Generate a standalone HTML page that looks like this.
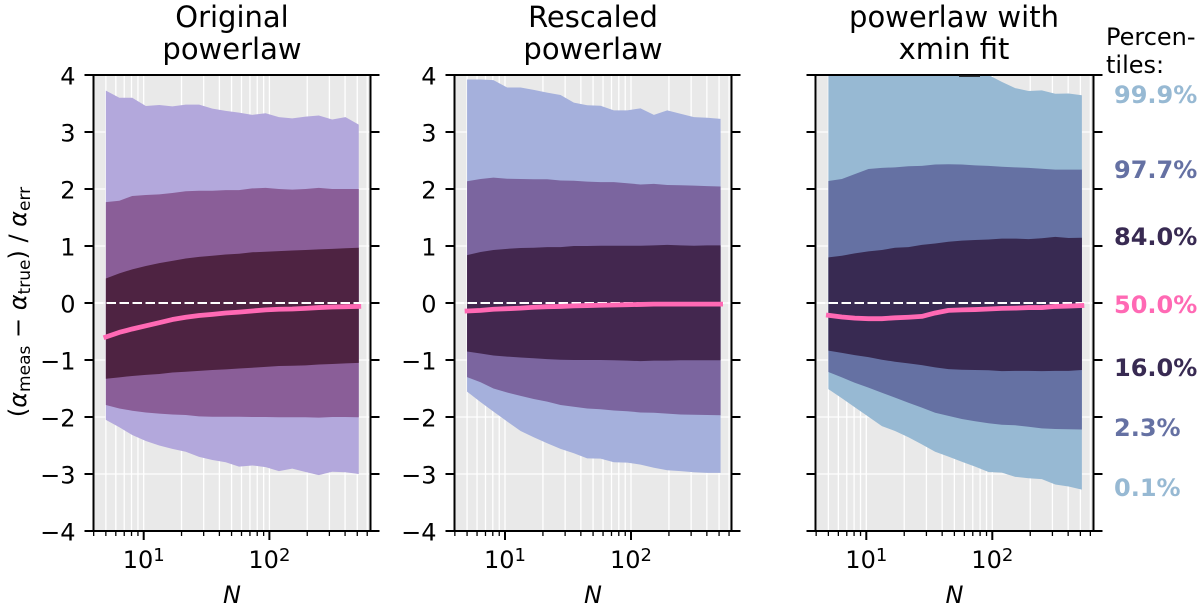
<!DOCTYPE html>
<html>
<head>
<meta charset="utf-8">
<title>Percentile bands of the normalised power-law exponent error</title>
<style>
html,body{margin:0;padding:0;background:#fff;}
svg{display:block;}
text{font-family:"DejaVu Sans","Liberation Sans",sans-serif;fill:#000;}
</style>
</head>
<body>
<svg id="chart" width="1200" height="609" viewBox="0 0 1200 609" xmlns="http://www.w3.org/2000/svg">
  <g id="panels"></g>

  <rect x="959" y="75" width="21" height="1.8" fill="#111"></rect>

  <g font-size="29" text-anchor="middle">
    <text x="232" y="27">Original</text>
    <text x="232" y="59">powerlaw</text>
    <text x="593" y="27">Rescaled</text>
    <text x="593" y="59">powerlaw</text>
    <text x="954" y="27">powerlaw with</text>
    <text x="954" y="59">xmin fit</text>
  </g>

  <text transform="translate(26,302) rotate(-90)" text-anchor="middle" font-size="24">(<tspan font-style="italic">α</tspan><tspan font-size="17" dy="4">meas</tspan><tspan dy="-4"> − </tspan><tspan font-style="italic">α</tspan><tspan font-size="17" dy="4">true</tspan><tspan dy="-4">) / </tspan><tspan font-style="italic">α</tspan><tspan font-size="17" dy="4">err</tspan></text>

  <g font-size="24">
    <text x="1106" y="45">Percen-</text>
    <text x="1106" y="73">tiles:</text>
    <g font-weight="bold">
      <text x="1114" y="103" style="fill:#97b9d3">99.9%</text>
      <text x="1114" y="178" style="fill:#6571a3">97.7%</text>
      <text x="1114" y="245" style="fill:#382a52">84.0%</text>
      <text x="1114" y="313" style="fill:#ff69b4">50.0%</text>
      <text x="1114" y="376" style="fill:#382a52">16.0%</text>
      <text x="1114" y="436" style="fill:#6571a3">2.3%</text>
      <text x="1114" y="496" style="fill:#97b9d3">0.1%</text>
    </g>
  </g>
</svg>

<script>
const sampleN = [5, 6.4, 8.1, 10.4, 13.3, 16.9, 21.6, 27.6, 35.2, 44.9, 57.3, 73.1, 93.3, 119, 152, 194, 247, 316, 403, 514];

const yTickValues = [-4, -3, -2, -1, 0, 1, 2, 3, 4];
const xMinorTickValues = [4, 5, 6, 7, 8, 9, 20, 30, 40, 50, 60, 70, 80, 90, 200, 300, 400, 500, 600];
const xMajorTickValues = [10, 100];
const xMajorTickExponents = ['1', '2'];

const originalP999 = [3.725, 3.6, 3.6, 3.456, 3.474, 3.45, 3.48, 3.48, 3.41, 3.37, 3.34, 3.3, 3.33, 3.26, 3.24, 3.27, 3.29, 3.22, 3.26, 3.13];
const originalP977 = [1.77, 1.795, 1.877, 1.895, 1.906, 1.93, 1.96, 1.97, 1.97, 1.98, 1.98, 2.01, 2.02, 2, 1.99, 2, 2.02, 2, 2, 2];
const originalP840 = [0.43, 0.52, 0.59, 0.65, 0.7, 0.74, 0.78, 0.81, 0.83, 0.85, 0.865, 0.89, 0.9, 0.91, 0.92, 0.93, 0.94, 0.95, 0.96, 0.97];
const originalP500 = [-0.596, -0.515, -0.456, -0.4, -0.345, -0.29, -0.25, -0.22, -0.2, -0.175, -0.16, -0.14, -0.12, -0.11, -0.105, -0.095, -0.08, -0.07, -0.065, -0.06];
const originalP160 = [-1.33, -1.305, -1.28, -1.26, -1.245, -1.22, -1.205, -1.19, -1.175, -1.165, -1.15, -1.135, -1.12, -1.105, -1.1, -1.095, -1.08, -1.07, -1.06, -1.05];
const originalP023 = [-1.79, -1.85, -1.89, -1.92, -1.94, -1.955, -1.965, -1.99, -1.995, -1.995, -1.995, -2, -2, -2.005, -2.005, -2.005, -2.01, -2, -2, -2.005];
const originalP001 = [-2.05, -2.18, -2.315, -2.42, -2.5, -2.56, -2.61, -2.7, -2.755, -2.795, -2.87, -2.85, -2.88, -2.95, -2.905, -2.965, -3.02, -2.96, -2.97, -3];

const rescaledP999 = [3.92, 3.92, 3.91, 3.78, 3.78, 3.74, 3.69, 3.65, 3.515, 3.47, 3.46, 3.38, 3.38, 3.415, 3.3, 3.38, 3.32, 3.26, 3.25, 3.23];
const rescaledP977 = [2.135, 2.175, 2.2, 2.18, 2.175, 2.17, 2.17, 2.15, 2.145, 2.13, 2.12, 2.12, 2.1, 2.08, 2.09, 2.07, 2.065, 2.06, 2.05, 2.045];
const rescaledP840 = [0.84, 0.895, 0.93, 0.95, 0.965, 0.97, 0.98, 0.98, 1, 1, 1.005, 1.005, 1.005, 1.005, 1.01, 1.02, 1.01, 1.005, 1.01, 1.01];
const rescaledP500 = [-0.14, -0.13, -0.11, -0.1, -0.09, -0.075, -0.065, -0.06, -0.05, -0.045, -0.04, -0.035, -0.03, -0.025, -0.02, -0.02, -0.02, -0.02, -0.02, -0.02];
const rescaledP160 = [-0.85, -0.885, -0.92, -0.94, -0.955, -0.97, -0.985, -0.995, -1, -1, -1, -1.005, -1.01, -1.02, -1.01, -1.01, -1.005, -1.005, -1.005, -1.005];
const rescaledP023 = [-1.3, -1.39, -1.5, -1.57, -1.63, -1.685, -1.73, -1.79, -1.82, -1.85, -1.865, -1.885, -1.9, -1.92, -1.925, -1.94, -1.955, -1.96, -1.965, -1.97];
const rescaledP001 = [-1.555, -1.74, -1.905, -2.08, -2.245, -2.355, -2.46, -2.56, -2.635, -2.725, -2.73, -2.795, -2.8, -2.835, -2.89, -2.935, -2.95, -2.97, -2.98, -2.98];

const xminP999 = [4.6, 4.55, 4.5, 4.4, 4.3, 4.25, 4.2, 4.15, 4.1, 4.05, 4.02, 4.02, 4, 3.88, 3.77, 3.72, 3.73, 3.67, 3.675, 3.645];
const xminP977 = [2.14, 2.175, 2.26, 2.35, 2.37, 2.38, 2.4, 2.405, 2.43, 2.435, 2.43, 2.415, 2.405, 2.39, 2.38, 2.37, 2.355, 2.34, 2.34, 2.34];
const xminP840 = [0.8, 0.83, 0.87, 0.905, 0.93, 0.97, 0.98, 1.02, 1.045, 1.075, 1.095, 1.105, 1.115, 1.13, 1.13, 1.12, 1.135, 1.16, 1.14, 1.145];
const xminP500 = [-0.215, -0.245, -0.265, -0.275, -0.275, -0.26, -0.25, -0.235, -0.175, -0.13, -0.12, -0.115, -0.105, -0.095, -0.09, -0.08, -0.08, -0.06, -0.055, -0.045];
const xminP160 = [-0.835, -0.875, -0.915, -0.95, -0.995, -1.03, -1.06, -1.09, -1.13, -1.16, -1.17, -1.175, -1.18, -1.195, -1.19, -1.19, -1.195, -1.19, -1.19, -1.175];
const xminP023 = [-1.21, -1.305, -1.4, -1.485, -1.575, -1.66, -1.75, -1.835, -1.925, -1.98, -2.035, -2.075, -2.11, -2.135, -2.145, -2.17, -2.2, -2.21, -2.215, -2.22];
const xminP001 = [-1.51, -1.67, -1.83, -1.995, -2.16, -2.245, -2.355, -2.48, -2.61, -2.695, -2.785, -2.87, -2.965, -2.975, -3.05, -3.075, -3.09, -3.185, -3.22, -3.275];

const SVG_NS = 'http://www.w3.org/2000/svg';
const axisTop = 75;
const axisBottom = 531;
const yAxisMin = -4;
const yAxisMax = 4;
const majorLen = 9;
const minorLen = 5;

const panelConfigs = [
  { key: 'original', left: 93.5, right: 370.5, decade10: 143.7, decade100: 269.4, showY: true,
    colors: ['#b3a8dc', '#8a5e98', '#4e2342'],
    series: [originalP001, originalP023, originalP160, originalP500, originalP840, originalP977, originalP999] },
  { key: 'rescaled', left: 454.5, right: 731.5, decade10: 505, decade100: 631, showY: true,
    colors: ['#a5b0dc', '#7b659f', '#43274f'],
    series: [rescaledP001, rescaledP023, rescaledP160, rescaledP500, rescaledP840, rescaledP977, rescaledP999] },
  { key: 'xmin', left: 815.5, right: 1093.5, decade10: 866.3, decade100: 992.3, showY: false,
    colors: ['#97b9d3', '#6571a3', '#382a52'],
    series: [xminP001, xminP023, xminP160, xminP500, xminP840, xminP977, xminP999] }
];

function yScale(v) {
  return axisTop + (yAxisMax - v) / (yAxisMax - yAxisMin) * (axisBottom - axisTop);
}
function makeXScale(cfg) {
  return function (n) {
    return cfg.decade10 + (Math.log10(n) - 1) * (cfg.decade100 - cfg.decade10);
  };
}
function mk(tag, parent) {
  const node = document.createElementNS(SVG_NS, tag);
  parent.appendChild(node);
  return node;
}
function line(parent, x1, y1, x2, y2, stroke, width) {
  const l = mk('line', parent);
  l.setAttribute('x1', x1);
  l.setAttribute('y1', y1);
  l.setAttribute('x2', x2);
  l.setAttribute('y2', y2);
  l.setAttribute('stroke', stroke);
  l.setAttribute('stroke-width', width);
  return l;
}
function bandPath(x, upper, lower) {
  let d = '';
  for (let i = 0; i < sampleN.length; i++) {
    d += (i ? 'L' : 'M') + x(sampleN[i]).toFixed(2) + ' ' + yScale(upper[i]).toFixed(2);
  }
  for (let i = sampleN.length - 1; i >= 0; i--) {
    d += 'L' + x(sampleN[i]).toFixed(2) + ' ' + yScale(lower[i]).toFixed(2);
  }
  return d + 'Z';
}

const panelsRoot = document.getElementById('panels');
const defs = mk('defs', panelsRoot);

panelConfigs.forEach(function (cfg) {
  const x = makeXScale(cfg);
  const w = cfg.right - cfg.left;
  const h = axisBottom - axisTop;

  const clip = mk('clipPath', defs);
  clip.setAttribute('id', 'clip-' + cfg.key);
  const clipRect = mk('rect', clip);
  clipRect.setAttribute('x', cfg.left);
  clipRect.setAttribute('y', axisTop);
  clipRect.setAttribute('width', w);
  clipRect.setAttribute('height', h);

  const panel = mk('g', panelsRoot);
  
  

  const bg = mk('rect', panel);
  
  
  bg.setAttribute('x', cfg.left);
  bg.setAttribute('y', axisTop);
  bg.setAttribute('width', w);
  bg.setAttribute('height', h);
  bg.setAttribute('fill', '#e9e9e9');

  const grid = mk('g', panel);
  
  
  xMinorTickValues.concat(xMajorTickValues).forEach(function (n) {
    const gl = line(grid, x(n), axisTop, x(n), axisBottom, '#ffffff', 1.3);
    
    
  });
  yTickValues.forEach(function (v) {
    const gl = line(grid, cfg.left, yScale(v), cfg.right, yScale(v), '#ffffff', 1.3);
    
    
  });

  const plot = mk('g', panel);
  
  
  plot.setAttribute('clip-path', 'url(#clip-' + cfg.key + ')');

  const outer = mk('path', plot);
  
  
  outer.setAttribute('d', bandPath(x, cfg.series[6], cfg.series[0]));
  outer.setAttribute('fill', cfg.colors[0]);

  const middle = mk('path', plot);
  
  
  middle.setAttribute('d', bandPath(x, cfg.series[5], cfg.series[1]));
  middle.setAttribute('fill', cfg.colors[1]);

  const inner = mk('path', plot);
  
  
  inner.setAttribute('d', bandPath(x, cfg.series[4], cfg.series[2]));
  inner.setAttribute('fill', cfg.colors[2]);

  const zero = line(plot, cfg.left, yScale(0), cfg.right, yScale(0), '#ffffff', 2);
  
  
  zero.setAttribute('stroke-dasharray', '9.5 3.5');

  const median = mk('polyline', plot);
  
  
  median.setAttribute('points', sampleN.map(function (n, i) {
    return x(n).toFixed(2) + ',' + yScale(cfg.series[3][i]).toFixed(2);
  }).join(' '));
  median.setAttribute('fill', 'none');
  median.setAttribute('stroke', '#ff69b4');
  median.setAttribute('stroke-width', 4.8);
  median.setAttribute('stroke-linecap', 'square');
  median.setAttribute('stroke-linejoin', 'round');

  const yTicks = mk('g', panel);
  
  
  yTickValues.forEach(function (v) {
    const py = yScale(v);
    const tl = line(yTicks, cfg.left - majorLen, py, cfg.left, py, '#000', 2);
    
    
    const tr = line(yTicks, cfg.right, py, cfg.right + majorLen, py, '#000', 2);
    
    
    if (cfg.showY) {
      const label = mk('text', yTicks);
      
      
      label.setAttribute('x', cfg.left - 18);
      label.setAttribute('y', py + 9.5);
      label.setAttribute('text-anchor', 'end');
      label.setAttribute('font-size', 24);
      label.textContent = (v < 0 ? '\u2212' : '') + Math.abs(v);
    }
  });

  const xTicks = mk('g', panel);
  
  
  xMinorTickValues.forEach(function (n) {
    const t = line(xTicks, x(n), axisBottom, x(n), axisBottom + minorLen, '#000', 1.3);
    
    
  });
  xMajorTickValues.forEach(function (n, i) {
    const t = line(xTicks, x(n), axisBottom, x(n), axisBottom + majorLen, '#000', 2);
    
    
    const label = mk('text', xTicks);
    
    
    label.setAttribute('x', x(n));
    label.setAttribute('y', 568);
    label.setAttribute('text-anchor', 'middle');
    label.setAttribute('font-size', 24);
    const base = mk('tspan', label);
    base.textContent = '10';
    const exp = mk('tspan', label);
    exp.setAttribute('font-size', 18);
    exp.setAttribute('dy', -7);
    exp.textContent = xMajorTickExponents[i];
  });

  const axisLabel = mk('text', panel);
  
  
  axisLabel.setAttribute('x', (cfg.left + cfg.right) / 2);
  axisLabel.setAttribute('y', 603);
  axisLabel.setAttribute('text-anchor', 'middle');
  axisLabel.setAttribute('font-size', 24);
  axisLabel.setAttribute('font-style', 'italic');
  axisLabel.textContent = 'N';

  const frame = mk('rect', panel);
  
  
  frame.setAttribute('x', cfg.left);
  frame.setAttribute('y', axisTop);
  frame.setAttribute('width', w);
  frame.setAttribute('height', h);
  frame.setAttribute('fill', 'none');
  frame.setAttribute('stroke', '#000');
  frame.setAttribute('stroke-width', 2);
});
</script>
</body>
</html>
